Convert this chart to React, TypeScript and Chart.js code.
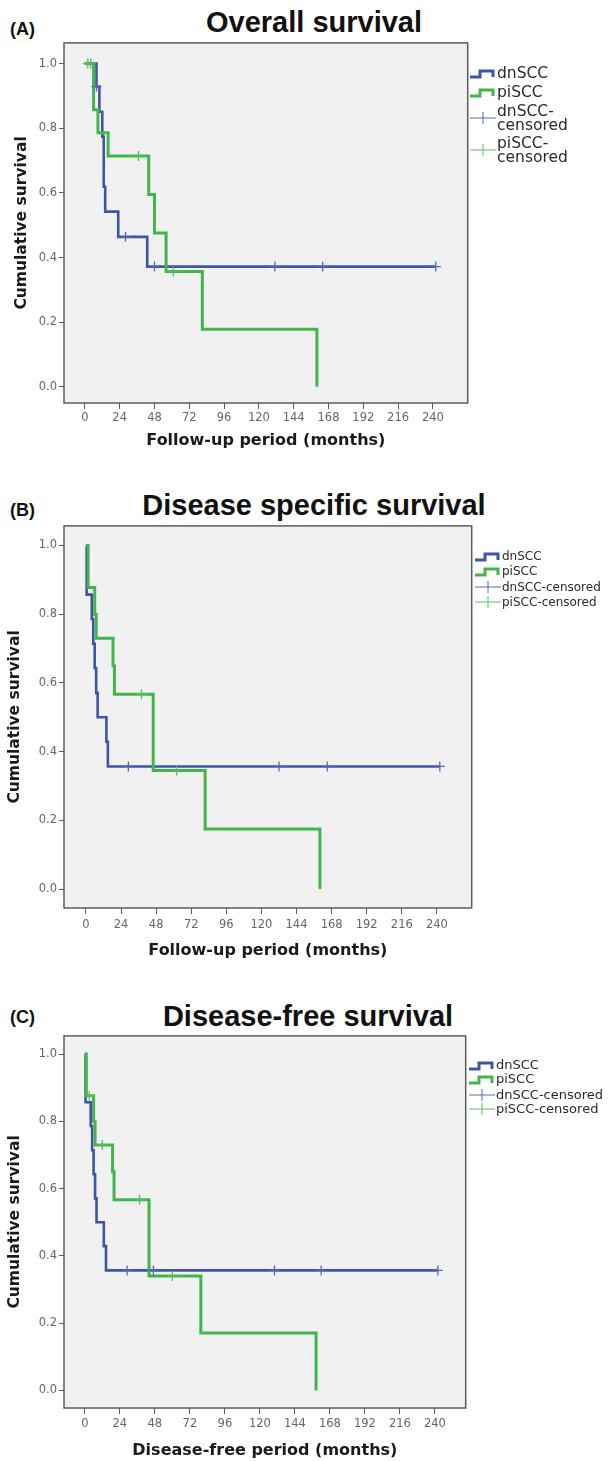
import { useEffect, useRef } from "react";
import { Chart, registerables, type ChartConfiguration, type Plugin } from "chart.js";

Chart.register(...registerables);
Chart.defaults.font.family = "'DejaVu Sans', sans-serif";

const xTickValues = [0, 24, 48, 72, 96, 120, 144, 168, 192, 216, 240];
const yTickValues = [0, 0.2, 0.4, 0.6, 0.8, 1.0];

// (A) Overall survival
const osDnMonths = [0, 8, 10, 12, 13, 14, 23, 43, 242];
const osDnSurvival = [1, 0.929, 0.851, 0.774, 0.619, 0.542, 0.464, 0.372, 0.372];
const osDnCensorMonths = [8, 28, 48, 131, 164, 242];
const osDnCensorSurvival = [0.929, 0.464, 0.372, 0.372, 0.372, 0.372];
const osPiMonths = [0, 6, 9, 16, 44, 48, 56, 81, 160];
const osPiSurvival = [1, 0.857, 0.786, 0.714, 0.595, 0.476, 0.357, 0.178, 0];
const osPiCensorMonths = [2, 4, 37, 61];
const osPiCensorSurvival = [1, 1, 0.714, 0.357];

// (B) Disease specific survival
const dssDnMonths = [0, 0.5, 4, 5, 6, 7, 8, 14, 15, 242];
const dssDnSurvival = [1, 0.857, 0.786, 0.714, 0.643, 0.571, 0.5, 0.429, 0.357, 0.357];
const dssDnCensorMonths = [29, 132, 165, 242];
const dssDnCensorSurvival = [0.357, 0.357, 0.357, 0.357];
const dssPiMonths = [0, 1.5, 6, 7, 18.5, 19.5, 46, 81.5, 160];
const dssPiSurvival = [1, 0.878, 0.8, 0.73, 0.65, 0.567, 0.345, 0.175, 0];
const dssPiCensorMonths = [38, 62];
const dssPiCensorSurvival = [0.567, 0.345];

// (C) Disease-free survival
const dfsDnMonths = [0, 0.5, 4, 5, 6, 7, 8, 13, 14.5, 242];
const dfsDnSurvival = [1, 0.857, 0.786, 0.714, 0.643, 0.571, 0.5, 0.429, 0.357, 0.357];
const dfsDnCensorMonths = [29, 47, 130, 162, 242];
const dfsDnCensorSurvival = [0.357, 0.357, 0.357, 0.357, 0.357];
const dfsPiMonths = [0, 1, 6, 7, 19, 20, 44, 79.5, 158.5];
const dfsPiSurvival = [1, 0.876, 0.8, 0.73, 0.65, 0.567, 0.34, 0.171, 0];
const dfsPiCensorMonths = [3, 12, 37.5, 60];
const dfsPiCensorSurvival = [0.876, 0.73, 0.567, 0.34];

const BLUE = "#3e55a6";
const GREEN = "#42b54b";
const BLUE_MARK = "#5568b8";
const GREEN_MARK = "#55c05e";
const PLOT_BG = "#f1f1f1";
const FRAME = "#5c5c5c";
const TICK_COLOR = "#666666";

type Curve = { months: number[]; survival: number[] };
type Box = { left: number; top: number; right: number; bottom: number };
type LegendRow = { kind: "line" | "censor"; color: string; lines: string[]; y: number };

type PanelSpec = {
  letter: string;
  letterY: number;
  title: string;
  titleX: number;
  titleY: number;
  xTitle: string;
  xTitleY: number;
  yTitleX: number;
  box: Box;
  xRange: [number, number];
  yRange: [number, number];
  tickPad: number;
  dn: Curve;
  pi: Curve;
  dnCensor: Curve;
  piCensor: Curve;
  legendLeft: number;
  legendFont: number;
  legendLine: number;
  legend: LegendRow[];
};

const panels: PanelSpec[] = [
  {
    letter: "(A)",
    letterY: 29,
    title: "Overall survival",
    titleX: 314,
    titleY: 22,
    xTitle: "Follow-up period (months)",
    xTitleY: 440,
    yTitleX: 22,
    box: { left: 64, top: 38, right: 470, bottom: 403 },
    xRange: [-14.4, 264],
    yRange: [-0.05, 1.064],
    tickPad: 2,
    dn: { months: osDnMonths, survival: osDnSurvival },
    pi: { months: osPiMonths, survival: osPiSurvival },
    dnCensor: { months: osDnCensorMonths, survival: osDnCensorSurvival },
    piCensor: { months: osPiCensorMonths, survival: osPiCensorSurvival },
    legendLeft: 470,
    legendFont: 15.5,
    legendLine: 14,
    legend: [
      { kind: "line", color: BLUE, lines: ["dnSCC"], y: 73 },
      { kind: "line", color: GREEN, lines: ["piSCC"], y: 92 },
      { kind: "censor", color: BLUE_MARK, lines: ["dnSCC-", "censored"], y: 118 },
      { kind: "censor", color: GREEN_MARK, lines: ["piSCC-", "censored"], y: 150 }
    ]
  },
  {
    letter: "(B)",
    letterY: 510,
    title: "Disease specific survival",
    titleX: 314,
    titleY: 505,
    xTitle: "Follow-up period (months)",
    xTitleY: 950,
    yTitleX: 15,
    box: { left: 64, top: 521, right: 474, bottom: 908 },
    xRange: [-15, 263.8],
    yRange: [-0.055, 1.057],
    tickPad: 4,
    dn: { months: dssDnMonths, survival: dssDnSurvival },
    pi: { months: dssPiMonths, survival: dssPiSurvival },
    dnCensor: { months: dssDnCensorMonths, survival: dssDnCensorSurvival },
    piCensor: { months: dssPiCensorMonths, survival: dssPiCensorSurvival },
    legendLeft: 475,
    legendFont: 12,
    legendLine: 14,
    legend: [
      { kind: "line", color: BLUE, lines: ["dnSCC"], y: 556 },
      { kind: "line", color: GREEN, lines: ["piSCC"], y: 571 },
      { kind: "censor", color: BLUE_MARK, lines: ["dnSCC-censored"], y: 587 },
      { kind: "censor", color: GREEN_MARK, lines: ["piSCC-censored"], y: 602 }
    ]
  },
  {
    letter: "(C)",
    letterY: 1017,
    title: "Disease-free survival",
    titleX: 308,
    titleY: 1016,
    xTitle: "Disease-free period (months)",
    xTitleY: 1450,
    yTitleX: 15,
    box: { left: 64, top: 1031, right: 468, bottom: 1408 },
    xRange: [-14.3, 261.1],
    yRange: [-0.052, 1.054],
    tickPad: 3,
    dn: { months: dfsDnMonths, survival: dfsDnSurvival },
    pi: { months: dfsPiMonths, survival: dfsPiSurvival },
    dnCensor: { months: dfsDnCensorMonths, survival: dfsDnCensorSurvival },
    piCensor: { months: dfsPiCensorMonths, survival: dfsPiCensorSurvival },
    legendLeft: 469,
    legendFont: 13,
    legendLine: 14,
    legend: [
      { kind: "line", color: BLUE, lines: ["dnSCC"], y: 1065 },
      { kind: "line", color: GREEN, lines: ["piSCC"], y: 1079 },
      { kind: "censor", color: BLUE_MARK, lines: ["dnSCC-censored"], y: 1095 },
      { kind: "censor", color: GREEN_MARK, lines: ["piSCC-censored"], y: 1109 }
    ]
  }
];

const plotBox: Plugin<"scatter"> = {
  id: "plotBox",
  beforeDraw(chart) {
    const { ctx, chartArea: a } = chart;
    ctx.save();
    ctx.fillStyle = PLOT_BG;
    ctx.fillRect(a.left, a.top, a.right - a.left, a.bottom - a.top);
    ctx.restore();
  },
  afterDraw(chart) {
    const { ctx, chartArea: a } = chart;
    ctx.save();
    ctx.strokeStyle = FRAME;
    ctx.lineWidth = 1.5;
    ctx.strokeRect(a.left, a.top, a.right - a.left, a.bottom - a.top);
    ctx.restore();
  }
};

function points(curve: Curve) {
  return curve.months.map((m, i) => ({ x: m, y: curve.survival[i] }));
}

function canvasFrame(p: PanelSpec) {
  const top = p.box.top - 4;
  const height = p.xTitleY + 11 - top;
  const width = p.box.right + 4;
  return { top, height, width, xAxisHeight: top + height - p.box.bottom };
}

function chartConfig(p: PanelSpec): ChartConfiguration<"scatter"> {
  const frame = canvasFrame(p);
  const censor = (label: string, curve: Curve, color: string) => ({
    label,
    data: points(curve),
    showLine: false,
    pointStyle: "cross" as const,
    pointRadius: 5,
    pointBorderColor: color,
    pointBorderWidth: 1.3,
    order: 0
  });
  const step = (label: string, curve: Curve, color: string, width: number, order: number) => ({
    label,
    data: points(curve),
    showLine: true,
    stepped: "before" as const,
    borderColor: color,
    borderWidth: width,
    pointRadius: 0,
    fill: false,
    order
  });

  return {
    type: "scatter",
    data: {
      datasets: [
        censor("dnSCC-censored", p.dnCensor, BLUE_MARK),
        censor("piSCC-censored", p.piCensor, GREEN_MARK),
        step("piSCC", p.pi, GREEN, 3, 1),
        step("dnSCC", p.dn, BLUE, 2.6, 2)
      ]
    },
    options: {
      animation: false,
      responsive: true,
      maintainAspectRatio: false,
      events: [],
      layout: { padding: { top: 4, right: 4, left: 0, bottom: 0 } },
      plugins: {
        legend: { display: false },
        tooltip: { enabled: false }
      },
      scales: {
        x: {
          type: "linear",
          min: p.xRange[0],
          max: p.xRange[1],
          afterBuildTicks(scale) {
            scale.ticks = xTickValues.map((value) => ({ value }));
          },
          afterFit(scale) {
            scale.height = frame.xAxisHeight;
          },
          grid: {
            drawOnChartArea: false,
            drawTicks: true,
            tickLength: 6,
            color: FRAME,
            lineWidth: 1
          },
          border: { display: false },
          ticks: {
            color: TICK_COLOR,
            font: { size: 11.5 },
            padding: p.tickPad,
            maxRotation: 0,
            autoSkip: false,
            callback: (value) => String(value)
          },
          title: {
            display: true,
            text: p.xTitle,
            color: "#1a1a1a",
            font: { size: 16, weight: "bold" },
            padding: { top: 0, bottom: 1 }
          }
        },
        y: {
          type: "linear",
          min: p.yRange[0],
          max: p.yRange[1],
          afterBuildTicks(scale) {
            scale.ticks = yTickValues.map((value) => ({ value }));
          },
          afterFit(scale) {
            scale.width = p.box.left;
          },
          grid: {
            drawOnChartArea: false,
            drawTicks: true,
            tickLength: 5,
            color: FRAME,
            lineWidth: 1
          },
          border: { display: false },
          ticks: {
            color: TICK_COLOR,
            font: { size: 11.5 },
            padding: 2,
            autoSkip: false,
            callback: (value) => Number(value).toFixed(1)
          },
          title: {
            display: true,
            text: "Cumulative survival",
            color: "#1a1a1a",
            font: { size: 15.5, weight: "bold" },
            padding: { top: p.yTitleX - 9.3, bottom: 0 }
          }
        }
      }
    },
    plugins: [plotBox]
  };
}

function LegendIcon({ row }: { row: LegendRow }) {
  if (row.kind === "line") {
    return (
      <svg width={27} height={10} style={{ display: "block" }}>
        <polyline
          points="0,8 10,8 10,2 23,2 23,8"
          fill="none"
          stroke={row.color}
          strokeWidth={3}
          strokeLinejoin="miter"
        />
      </svg>
    );
  }
  return (
    <svg width={27} height={12} style={{ display: "block" }}>
      <line x1={0} y1={6} x2={26} y2={6} stroke={row.color} strokeWidth={1} />
      <line x1={13} y1={0} x2={13} y2={12} stroke={row.color} strokeWidth={1} />
    </svg>
  );
}

function SurvivalPanel({ spec }: { spec: PanelSpec }) {
  const canvasRef = useRef<HTMLCanvasElement | null>(null);
  const frame = canvasFrame(spec);

  useEffect(() => {
    const canvas = canvasRef.current;
    if (!canvas) {
      return;
    }
    const chart = new Chart(canvas, chartConfig(spec));
    return () => chart.destroy();
  }, [spec]);

  return (
    <>
      <div
        style={{
          position: "absolute",
          left: 10,
          top: spec.letterY - 9,
          fontFamily: "'Liberation Sans', Arial, sans-serif",
          fontWeight: "bold",
          fontSize: 18,
          lineHeight: "18px",
          color: "#111"
        }}
      >
        {spec.letter}
      </div>
      <div
        style={{
          position: "absolute",
          left: spec.titleX - 300,
          width: 600,
          top: spec.titleY - 13.7,
          textAlign: "center",
          whiteSpace: "nowrap",
          fontFamily: "'Liberation Sans', Arial, sans-serif",
          fontWeight: "bold",
          fontSize: 29,
          lineHeight: "29px",
          color: "#111"
        }}
      >
        {spec.title}
      </div>
      <div
        style={{
          position: "absolute",
          left: 0,
          top: frame.top,
          width: frame.width,
          height: frame.height
        }}
      >
        <canvas ref={canvasRef} />
      </div>
      {spec.legend.map((row) => {
        const blockHeight = row.lines.length * spec.legendLine;
        const iconHeight = row.kind === "line" ? 10 : 12;
        return (
          <div key={row.lines.join("")}>
            <div
              style={{
                position: "absolute",
                left: spec.legendLeft,
                top: row.y - iconHeight / 2 + (row.kind === "line" ? 1 : 0)
              }}
            >
              <LegendIcon row={row} />
            </div>
            <div
              style={{
                position: "absolute",
                left: spec.legendLeft + 27,
                top: row.y - blockHeight / 2 - 0.5,
                fontFamily: "'DejaVu Sans', sans-serif",
                fontSize: spec.legendFont,
                lineHeight: `${spec.legendLine}px`,
                color: "#2a2a2a",
                whiteSpace: "nowrap"
              }}
            >
              {row.lines.map((line) => (
                <div key={line}>{line}</div>
              ))}
            </div>
          </div>
        );
      })}
    </>
  );
}

export default function App() {
  return (
    <div
      style={{
        position: "absolute",
        left: 0,
        top: 0,
        width: 608,
        height: 1461,
        overflow: "hidden",
        background: "#ffffff"
      }}
    >
      {panels.map((spec) => (
        <SurvivalPanel key={spec.letter} spec={spec} />
      ))}
    </div>
  );
}
